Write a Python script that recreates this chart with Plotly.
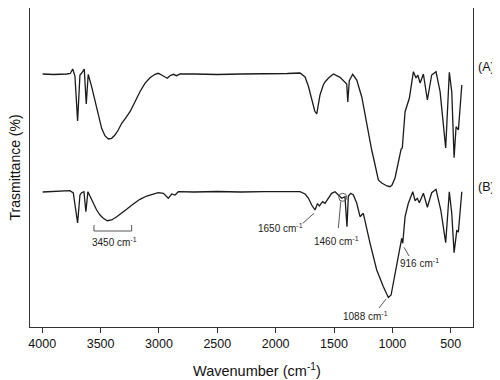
import plotly.graph_objects as go

# Spectrum (A): wavenumber (cm-1) and transmittance (arbitrary units)
wn_a = [3997, 3900, 3791, 3760, 3739, 3720, 3697, 3677, 3662, 3640, 3623, 3606,
        3577, 3548, 3520, 3491, 3463, 3434, 3405, 3377, 3349, 3319, 3277, 3248,
        3205, 3163, 3120, 3077, 3034, 3006, 2977, 2948, 2929, 2906, 2877, 2848,
        2820, 2700, 2500, 2300, 2100, 1900, 1791, 1748, 1720, 1691, 1665, 1648,
        1620, 1592, 1577, 1549, 1506, 1448, 1406, 1391, 1382, 1369, 1340, 1305,
        1262, 1220, 1177, 1148, 1120, 1091, 1063, 1046, 1020, 1003, 977, 956,
        934, 925, 915, 905, 891, 854, 820, 797, 782, 762, 734, 700, 663, 626,
        591, 543, 512, 491, 471, 454, 434, 405]
tr_a = [253, 252.5, 253, 253.5, 258, 251, 206, 252, 254, 258, 223, 252.7,
        240.3, 225.3, 210.3, 198.7, 191.3, 188, 188.7, 192, 197, 203.7, 210.3, 215.3,
        225.3, 235.3, 243.7, 249.3, 252.7, 253.7, 252, 250.3, 248.7, 251.3, 252.7, 251.3,
        253, 253, 252.5, 253, 253, 253.5, 254, 250, 241, 229, 216, 213,
        232, 242, 245, 248.7, 253, 249.7, 245.3, 243, 225, 246.3, 252.7, 247,
        230, 203, 177, 162, 147, 144, 142, 141, 140.3, 142, 149, 162,
        175, 178, 179, 195, 215.3, 229, 255.3, 249, 252, 244, 253, 227, 252, 255.3,
        235.3, 179, 254.7, 235.3, 169.3, 200.3, 197, 242]

# Spectrum (B)
wn_b = [3997, 3877, 3763, 3734, 3697, 3677, 3663, 3643, 3626, 3609, 3563, 3534,
        3505, 3477, 3443, 3405, 3362, 3319, 3277, 3220, 3163, 3105, 3048, 3006,
        2962, 2920, 2891, 2862, 2834, 2700, 2500, 2300, 2100, 1900, 1791, 1748,
        1720, 1691, 1663, 1641, 1626, 1597, 1577, 1549, 1520, 1491, 1463, 1434,
        1406, 1389, 1377, 1357, 1334, 1305, 1277, 1249, 1191, 1134, 1077, 1034,
        1011, 977, 949, 928, 920, 911, 891, 863, 825, 806, 786, 769, 734, 700,
        663, 626, 585, 543, 512, 491, 471, 448, 434, 405]
tr_b = [135, 135.3, 136.3, 134, 104, 132, 134.3, 135.3, 115.3, 135.3, 124, 117,
        112, 108.7, 106.3, 107, 110.3, 113.7, 117.7, 123, 127.7, 131, 133, 134.3,
        133.7, 128.7, 133, 132, 135.3, 135, 135.5, 135, 135.3, 135.3, 135.3, 133,
        129, 122, 117, 123.5, 121, 125.3, 123.7, 128.7, 133.7, 135.3, 132, 128.7,
        130.3, 100.3, 131, 133.7, 132, 123.7, 110.3, 113.7, 83.7, 57, 40.3, 29.5,
        32, 53.7, 73.7, 85.3, 88.7, 83.7, 110.3, 123.7, 135.3, 126.3, 128.7, 124.3, 133.7, 119.7,
        134.3, 137.7, 117, 84.3, 135.3, 113.7, 74.3, 96.3, 95.3, 135.3]

x_ticks = [4000, 3500, 3000, 2500, 2000, 1500, 1000, 500]
x_tick_labels = ["4000", "3500", "3000", "2500", "2000", "1500", "1000", "500"]

FONT = "Arial, Liberation Sans, sans-serif"
LINE = "#1a1a1a"
GRAY = "#444444"

fig = go.Figure()
fig.add_trace(go.Scatter(x=wn_a, y=tr_a, mode="lines", line=dict(color=LINE, width=1.3),
                         showlegend=False, hoverinfo="skip"))
fig.add_trace(go.Scatter(x=wn_b, y=tr_b, mode="lines", line=dict(color=LINE, width=1.3),
                         showlegend=False, hoverinfo="skip"))

ann_font = dict(family=FONT, size=10, color="#222")
annotations = [
    dict(text="Trasmittance (%)", xref="paper", yref="paper", x=-0.034, y=0.5,
         textangle=-90, showarrow=False, font=dict(family=FONT, size=14, color="#111"),
         xanchor="center", yanchor="middle"),
    dict(text="Wavenumber (cm<sup>-1</sup>)", xref="paper", yref="paper", x=0.512, y=-0.135,
         showarrow=False, font=dict(family=FONT, size=14.5, color="#111"),
         xanchor="center", yanchor="middle"),
    dict(text="(A)", xref="paper", yref="y", x=1.03, y=260, showarrow=False,
         font=dict(family=FONT, size=12.5, color="#111"), xanchor="center", yanchor="middle"),
    dict(text="(B)", xref="paper", yref="y", x=1.03, y=140, showarrow=False,
         font=dict(family=FONT, size=12.5, color="#111"), xanchor="center", yanchor="middle"),
    dict(text="3450 cm<sup>-1</sup>", x=3377, y=85, showarrow=False, font=ann_font,
         xanchor="center", yanchor="middle"),
    dict(text="1650 cm<sup>-1</sup>", x=1958, y=98.7, showarrow=False, font=ann_font,
         xanchor="center", yanchor="middle"),
    dict(text="1460 cm<sup>-1</sup>", x=1478, y=86, showarrow=False, font=ann_font,
         xanchor="center", yanchor="middle"),
    dict(text="916 cm<sup>-1</sup>", x=771, y=64.3, showarrow=False, font=ann_font,
         xanchor="center", yanchor="middle"),
    dict(text="1088 cm<sup>-1</sup>", x=1226, y=11, showarrow=False, font=ann_font,
         xanchor="center", yanchor="middle"),
]

lw = dict(color=GRAY, width=0.9)
shapes = [
    dict(type="path", path="M 3557,102 L 3557,96 L 3234,96 L 3234,102", line=lw),
    dict(type="line", x0=1768, y0=103.7, x1=1671, y1=113.7, line=lw),
    dict(type="line", x0=1463, y0=99, x1=1442, y1=125.5, line=lw),
    dict(type="circle", x0=1459, x1=1391, y0=125.7, y1=133.7, line=lw),
    dict(type="line", x0=900, y0=79.7, x1=857, y1=71, line=lw),
    dict(type="line", x0=1114, y0=19, x1=1054, y1=28, line=lw),
]

# The page body has an 8px margin, so the figure is 8px smaller and offset.
fig.update_layout(
    width=492, height=372,
    margin=dict(l=22, r=27, t=0, b=53),
    paper_bgcolor="white", plot_bgcolor="white",
    font=dict(family=FONT, color="#111"),
    annotations=annotations, shapes=shapes,
    xaxis=dict(range=[4105, 309], tickvals=x_ticks, ticktext=x_tick_labels,
               ticks="outside", ticklen=5, tickwidth=1, tickcolor="#333",
               showline=True, linecolor="#333", linewidth=1, mirror=True,
               showgrid=False, zeroline=False,
               tickfont=dict(family=FONT, size=12.5, color="#111")),
    yaxis=dict(range=[0, 319], showticklabels=False, ticks="",
               showline=True, linecolor="#333", linewidth=1, mirror=True,
               showgrid=False, zeroline=False),
)

fig.write_html("out.html")
